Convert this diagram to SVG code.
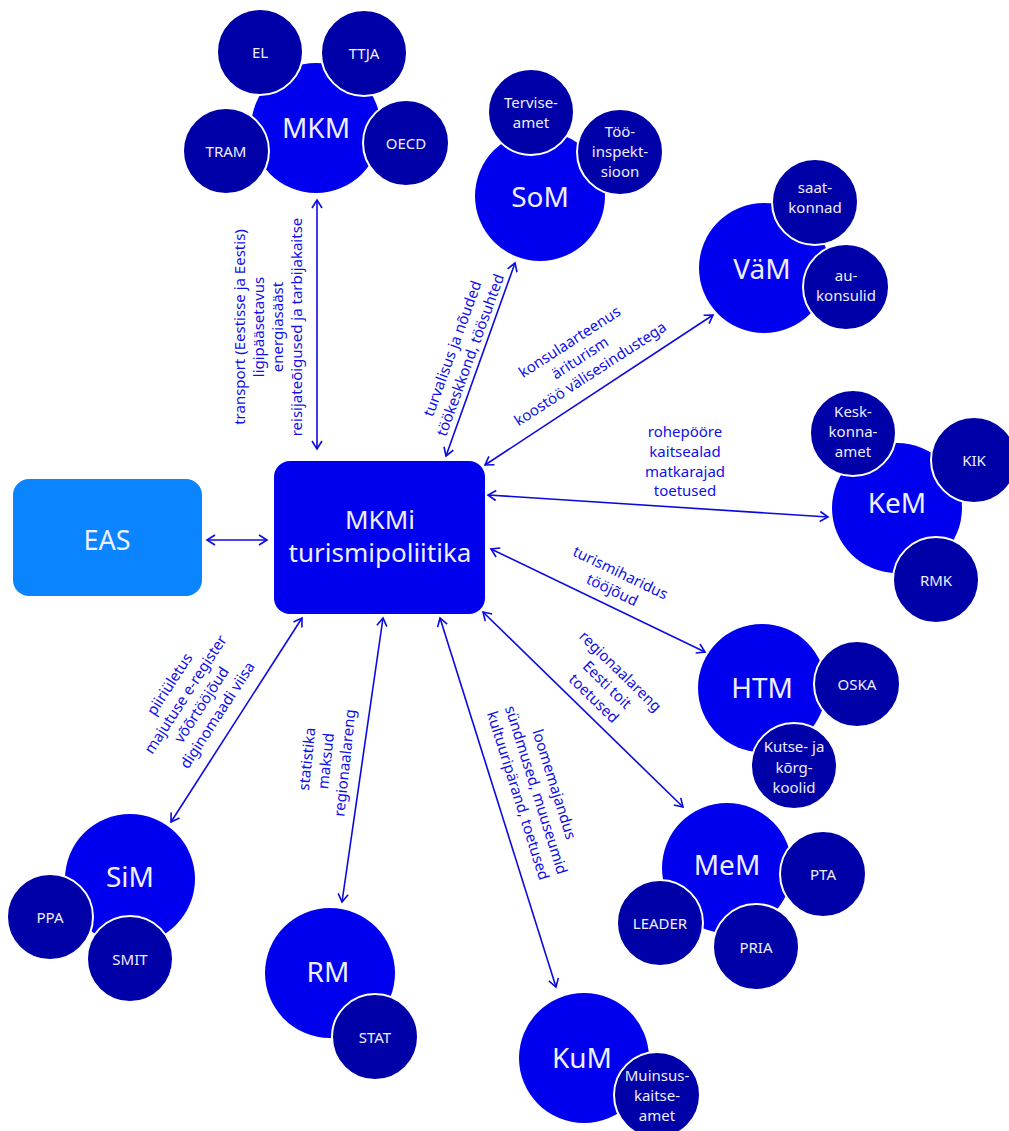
<svg xmlns="http://www.w3.org/2000/svg" width="1009" height="1131" viewBox="0 0 1009 1131">
<style>
.main{fill:#0000EE}
.sub{fill:#0000A8;stroke:#ffffff;stroke-width:2}
.tm{font-family:"Noto Sans","Liberation Sans",sans-serif;font-size:28px;fill:#EEEEFF;text-anchor:middle}
.ts{font-family:"Noto Sans","Liberation Sans",sans-serif;font-size:15px;fill:#EEEEFF;text-anchor:middle}
.lbl{font-family:"Noto Sans","Liberation Sans",sans-serif;font-size:15px;fill:#1010E8;text-anchor:middle}
.con{stroke:#0A0AE0;stroke-width:1.6;fill:none;marker-start:url(#ah);marker-end:url(#ah)}
</style>
<defs>
<marker id="ah" viewBox="0 0 12 12" refX="10" refY="6" markerWidth="12" markerHeight="12" markerUnits="userSpaceOnUse" orient="auto-start-reverse">
<path d="M2,1 L10,6 L2,11" fill="none" stroke="#0A0AE0" stroke-width="1.6"/>
</marker>
</defs>
<rect width="1009" height="1131" fill="#ffffff"/>

<g id="connectors">
<line class="con" x1="317" y1="449" x2="317" y2="200"/>
<line class="con" x1="446" y1="456" x2="515" y2="263"/>
<line class="con" x1="485" y1="465" x2="713" y2="315"/>
<line class="con" x1="488" y1="495" x2="828" y2="517"/>
<line class="con" x1="491" y1="549" x2="705" y2="652"/>
<line class="con" x1="483" y1="612" x2="683" y2="807"/>
<line class="con" x1="440" y1="618" x2="556" y2="987"/>
<line class="con" x1="383" y1="618" x2="342" y2="902"/>
<line class="con" x1="302" y1="618" x2="171" y2="822"/>
<line class="con" x1="267" y1="540" x2="207" y2="540"/>
</g>

<g id="labels">
<text class="lbl" transform="translate(269,327) rotate(-90)"><tspan x="0" y="-24">transport (Eestisse ja Eestis)</tspan><tspan x="0" y="-5">ligipääsetavus</tspan><tspan x="0" y="14">energiasääst</tspan><tspan x="0" y="33">reisijateõigused ja tarbijakaitse</tspan></text>
<text class="lbl" transform="translate(462,352) rotate(-70)"><tspan x="0" y="-5">turvalisus ja nõuded</tspan><tspan x="0" y="14">töökeskkond, töösuhted</tspan></text>
<text class="lbl" transform="translate(580,358) rotate(-33)"><tspan x="0" y="-14">konsulaarteenus</tspan><tspan x="0" y="5">äriturism</tspan><tspan x="0" y="24">koostöö välisesindustega</tspan></text>
<text class="lbl"><tspan x="685" y="437">rohepööre</tspan><tspan x="685" y="457">kaitsealad</tspan><tspan x="685" y="477">matkarajad</tspan><tspan x="685" y="496">toetused</tspan></text>
<text class="lbl" transform="translate(616,582) rotate(25.7)"><tspan x="0" y="-5">turismiharidus</tspan><tspan x="0" y="14">tööjõud</tspan></text>
<text class="lbl" transform="translate(607,685) rotate(44.3)"><tspan x="0" y="-14">regionaalareng</tspan><tspan x="0" y="5">Eesti toit</tspan><tspan x="0" y="24">toetused</tspan></text>
<text class="lbl" transform="translate(536,790) rotate(72.5)"><tspan x="0" y="-14">loomemajandus</tspan><tspan x="0" y="5">sündmused, muuseumid</tspan><tspan x="0" y="24">kultuuripärand, toetused</tspan></text>
<text class="lbl" transform="translate(326,761) rotate(-84)"><tspan x="0" y="-14">statistika</tspan><tspan x="0" y="5">maksud</tspan><tspan x="0" y="24">regionaalareng</tspan></text>
<text class="lbl" transform="translate(194,700) rotate(-57)"><tspan x="0" y="-24">piiriületus</tspan><tspan x="0" y="-5">majutuse e-register</tspan><tspan x="0" y="14">võõrtööjõud</tspan><tspan x="0" y="33">diginomaadi viisa</tspan></text>
</g>

<g id="center">
<rect x="274" y="461" width="211" height="153" rx="16" fill="#0000EE"/>
<text class="tm" x="380" y="529" style="font-size:26px">MKMi</text>
<text class="tm" x="380" y="562" style="font-size:26px">turismipoliitika</text>
</g>

<g id="EAS">
<rect x="13" y="479" width="189" height="117" rx="16" fill="#0A84FF"/>
<text class="tm" x="107" y="550" style="font-size:27px">EAS</text>
</g>

<g id="MKM">
<circle class="main" cx="316" cy="128" r="65"/>
<text class="tm" x="316" y="138">MKM</text>
<circle class="sub" cx="260" cy="52" r="43"/><text class="ts" x="260" y="58">EL</text>
<circle class="sub" cx="364" cy="53" r="43"/><text class="ts" x="364" y="59">TTJA</text>
<circle class="sub" cx="226" cy="151" r="43"/><text class="ts" x="226" y="157">TRAM</text>
<circle class="sub" cx="406" cy="143" r="43"/><text class="ts" x="406" y="149">OECD</text>
</g>

<g id="SoM">
<circle class="main" cx="540" cy="196" r="65"/>
<text class="tm" x="540" y="207">SoM</text>
<circle class="sub" cx="531" cy="112" r="43"/><text class="ts" x="531" y="108">Tervise-</text><text class="ts" x="531" y="128">amet</text>
<circle class="sub" cx="620" cy="152" r="43"/><text class="ts" x="620" y="137">Töö-</text><text class="ts" x="620" y="157">inspekt-</text><text class="ts" x="620" y="177">sioon</text>
</g>

<g id="VaM">
<circle class="main" cx="764" cy="268" r="65"/>
<text class="tm" x="762" y="279">VäM</text>
<circle class="sub" cx="815" cy="202" r="43"/><text class="ts" x="815" y="193">saat-</text><text class="ts" x="815" y="213">konnad</text>
<circle class="sub" cx="846" cy="287" r="43"/><text class="ts" x="846" y="281">au-</text><text class="ts" x="846" y="301">konsulid</text>
</g>

<g id="KeM">
<circle class="main" cx="897" cy="508" r="65"/>
<text class="tm" x="897" y="513">KeM</text>
<circle class="sub" cx="853" cy="433" r="43"/><text class="ts" x="853" y="417">Kesk-</text><text class="ts" x="853" y="437">konna-</text><text class="ts" x="853" y="457">amet</text>
<circle class="sub" cx="974" cy="460" r="43"/><text class="ts" x="974" y="466">KIK</text>
<circle class="sub" cx="936" cy="580" r="43"/><text class="ts" x="936" y="586">RMK</text>
</g>

<g id="HTM">
<circle class="main" cx="762" cy="688" r="64"/>
<text class="tm" x="762" y="698">HTM</text>
<circle class="sub" cx="857" cy="684" r="43"/><text class="ts" x="857" y="690">OSKA</text>
<circle class="sub" cx="794" cy="766" r="43"/><text class="ts" x="794" y="752">Kutse- ja</text><text class="ts" x="794" y="773">kõrg-</text><text class="ts" x="794" y="793">koolid</text>
</g>

<g id="MeM">
<circle class="main" cx="727" cy="868" r="65"/>
<text class="tm" x="727" y="875">MeM</text>
<circle class="sub" cx="823" cy="874" r="43"/><text class="ts" x="823" y="880">PTA</text>
<circle class="sub" cx="660" cy="923" r="43"/><text class="ts" x="660" y="929">LEADER</text>
<circle class="sub" cx="756" cy="947" r="43"/><text class="ts" x="756" y="953">PRIA</text>
</g>

<g id="SiM">
<circle class="main" cx="130" cy="879" r="65"/>
<text class="tm" x="130" y="887">SiM</text>
<circle class="sub" cx="50" cy="917" r="43"/><text class="ts" x="50" y="923">PPA</text>
<circle class="sub" cx="130" cy="959" r="43"/><text class="ts" x="130" y="965">SMIT</text>
</g>

<g id="RM">
<circle class="main" cx="330" cy="973" r="65"/>
<text class="tm" x="328" y="982">RM</text>
<circle class="sub" cx="375" cy="1037" r="43"/><text class="ts" x="375" y="1043">STAT</text>
</g>

<g id="KuM">
<circle class="main" cx="584" cy="1058" r="65"/>
<text class="tm" x="582" y="1068">KuM</text>
<circle class="sub" cx="657" cy="1095" r="43"/><text class="ts" x="657" y="1081">Muinsus-</text><text class="ts" x="657" y="1101">kaitse-</text><text class="ts" x="657" y="1121">amet</text>
</g>
</svg>
